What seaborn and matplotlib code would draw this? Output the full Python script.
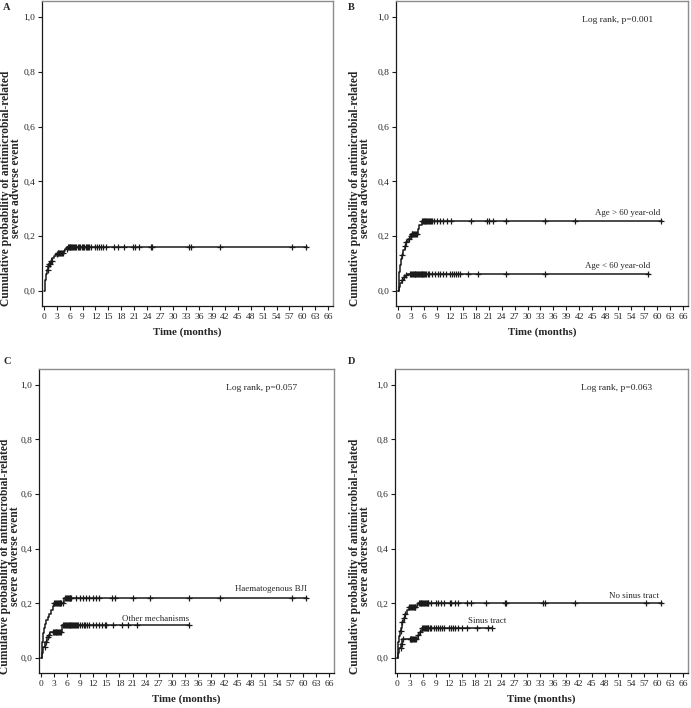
import numpy as np
import matplotlib
matplotlib.use("Agg")
import matplotlib.pyplot as plt
import matplotlib.ticker as mticker
import seaborn as sns

# ---- data ----
# Panel A: whole cohort
A_time = [0, 0.2, 0.4, 0.6, 0.8, 1.0, 1.3, 1.6, 2.0, 2.4, 2.8, 3.2, 4.6, 5.0, 5.5, 61.0]
A_prob = [0, 0.02, 0.04, 0.06, 0.075, 0.09, 0.10, 0.11, 0.12, 0.128, 0.133, 0.138, 0.145, 0.152, 0.16, 0.16]
A_cens = [0.9, 1.1, 1.3, 1.5, 1.7, 1.9, 3.0, 3.2, 3.4, 3.6, 3.8, 4.0, 4.2, 4.4,
          5.3, 5.6, 5.8, 6.0, 6.2, 6.4, 6.6, 6.8, 7.0, 7.3, 7.6, 7.9, 8.2, 8.5, 8.8,
          9.1, 9.4, 9.7, 10.0, 10.3, 10.6, 11.0, 12.0, 12.4, 12.8, 13.3, 13.8, 14.5,
          16.3, 17.2, 18.6, 20.6, 21.2, 22.0, 24.9, 25.1, 33.8, 34.1, 41.0, 57.5, 60.8]

# Panel B: age
B_old_time = [0, 0.2, 0.4, 0.6, 0.8, 1.0, 1.3, 1.6, 2.0, 2.4, 2.8, 3.1, 4.6, 5.0, 5.5, 61.0]
B_old_prob = [0, 0.04, 0.07, 0.095, 0.115, 0.13, 0.15, 0.165, 0.18, 0.19, 0.2, 0.207, 0.225, 0.24, 0.255, 0.255]
B_old_cens = [1.0, 1.6, 2.0, 2.5, 3.0, 3.2, 3.4, 3.6, 3.8, 4.0, 4.2, 4.4,
              5.6, 5.8, 6.0, 6.2, 6.4, 6.6, 6.8, 7.0, 7.2, 7.4, 7.7, 8.0, 8.3,
              9.0, 9.8, 10.4, 11.4, 12.4, 17.0, 20.6, 21.2, 22.0, 25.0, 34.0, 41.0, 60.8]
B_young_time = [0, 0.3, 0.6, 1.0, 1.4, 1.8, 2.2, 58.0]
B_young_prob = [0, 0.015, 0.03, 0.04, 0.05, 0.057, 0.062, 0.062]
B_young_cens = [1.0, 1.5, 1.9, 2.9, 3.1, 3.3, 3.5, 3.7, 3.9, 4.1, 4.3, 4.5, 4.7, 4.9,
                5.1, 5.3, 5.5, 5.7, 5.9, 6.1, 6.3, 6.6, 6.9, 7.2, 8.0, 8.5, 9.2, 9.8,
                10.5, 11.2, 12.0, 12.5, 13.0, 13.5, 14.0, 14.5, 16.3, 18.5, 25.0, 34.0, 57.8]

# Panel C: mechanism
C_haem_time = [0, 0.2, 0.4, 0.6, 0.8, 1.0, 1.3, 1.6, 2.0, 2.4, 2.8, 3.1, 5.4, 61.0]
C_haem_prob = [0, 0.03, 0.06, 0.09, 0.11, 0.125, 0.14, 0.15, 0.16, 0.175, 0.19, 0.2, 0.22, 0.22]
C_haem_cens = [3.1, 3.3, 3.5, 3.7, 3.9, 4.1, 4.3, 4.5, 4.7, 5.0, 5.6, 5.8, 6.0, 6.2,
               6.4, 6.6, 6.8, 7.0, 8.0, 9.0, 9.6, 10.4, 11.0, 12.0, 12.6, 13.4, 16.4,
               17.0, 21.0, 25.0, 34.0, 41.0, 57.5, 60.8]
C_other_time = [0, 0.3, 0.6, 1.0, 1.4, 1.8, 2.2, 4.9, 34.0]
C_other_prob = [0, 0.02, 0.04, 0.06, 0.075, 0.085, 0.095, 0.122, 0.122]
C_other_cens = [0.9, 1.2, 1.6, 2.0, 2.8, 3.0, 3.2, 3.4, 3.6, 3.8, 4.0, 4.2, 4.4, 4.6,
                5.2, 5.4, 5.6, 5.8, 6.0, 6.2, 6.4, 6.6, 6.8, 7.0, 7.2, 7.4, 7.6, 7.8,
                8.0, 8.3, 8.6, 9.0, 9.4, 9.8, 10.2, 10.6, 11.0, 12.0, 12.6, 13.4, 14.0,
                14.6, 15.0, 16.5, 18.5, 20.0, 22.0, 34.0]

# Panel D: sinus tract
D_no_time = [0, 0.2, 0.4, 0.6, 0.8, 1.0, 1.3, 1.6, 2.0, 2.4, 2.8, 4.7, 5.0, 61.0]
D_no_prob = [0, 0.03, 0.06, 0.08, 0.1, 0.11, 0.13, 0.145, 0.16, 0.175, 0.187, 0.195, 0.2, 0.2]
D_no_cens = [0.9, 1.3, 1.6, 2.0, 2.9, 3.1, 3.3, 3.5, 3.7, 3.9, 4.1, 4.3, 5.1, 5.3, 5.5,
             5.7, 5.9, 6.1, 6.3, 6.5, 6.7, 6.9, 7.1, 7.3, 8.0, 9.0, 9.6, 10.2, 11.0,
             12.3, 12.6, 13.5, 14.2, 16.3, 17.0, 20.6, 24.9, 25.1, 33.8, 34.2, 41.0, 57.5, 60.8]
D_sin_time = [0, 0.3, 0.6, 1.0, 1.3, 4.8, 5.3, 5.8, 22.0]
D_sin_prob = [0, 0.02, 0.035, 0.05, 0.07, 0.085, 0.095, 0.11, 0.11]
D_sin_cens = [0.9, 1.1, 1.5, 3.0, 3.2, 3.4, 3.6, 3.8, 4.0, 4.2, 4.5, 4.8, 5.3, 5.9, 6.1,
              6.3, 6.5, 6.7, 6.9, 7.1, 7.3, 7.6, 8.0, 8.5, 9.0, 9.5, 10.0, 10.5, 11.0,
              12.0, 12.5, 13.0, 13.5, 14.0, 15.0, 16.3, 18.5, 21.0, 22.0]

LOGRANK = {"B": "Log rank, p=0.001", "C": "Log rank, p=0.057", "D": "Log rank, p=0.063"}
XTICKS = list(range(0, 67, 3))
YTICKS = [0.0, 0.2, 0.4, 0.6, 0.8, 1.0]

sns.set_theme(style="ticks")
plt.rcParams["font.family"] = ["Liberation Serif", "DejaVu Serif"]

LINE = "#1a1a1a"
FRAME = "#8c8c8c"


def step_value(times, probs, t):
    i = np.searchsorted(times, t, side="right") - 1
    return probs[i]


def draw_curve(ax, times, probs, cens):
    sns.lineplot(x=times, y=probs, ax=ax, color=LINE, linewidth=1.1,
                 drawstyle="steps-post", estimator=None, sort=False)
    cy = [step_value(times, probs, t) for t in cens]
    ax.plot(cens, cy, linestyle="none", marker="+", markersize=4.5,
            markeredgewidth=0.9, color=LINE)


def style_axes(ax, label_x):
    ax.set_xlim(-0.4, 67.1)
    ax.set_ylim(-0.055, 1.058)
    ax.set_xticks(XTICKS)
    ax.set_yticks(YTICKS)
    ax.yaxis.set_major_formatter(mticker.FuncFormatter(lambda v, p: f"{v:.1f}".replace(".", ",")))
    ax.tick_params(axis="both", labelsize=6.8, length=3, width=0.8, pad=2, color=LINE)
    for s in ["top", "right"]:
        ax.spines[s].set_visible(True)
        ax.spines[s].set_color(FRAME)
        ax.spines[s].set_linewidth(1.0)
    for s in ["left", "bottom"]:
        ax.spines[s].set_color(LINE)
        ax.spines[s].set_linewidth(0.9)
    ax.set_xlabel("Time (months)", fontsize=7.8, fontweight="bold", labelpad=5)
    ax.set_ylabel("Cumulative probability of antimicrobial-related\nsevere adverse event",
                  fontsize=8.3, fontweight="bold", linespacing=0.8)
    ax.yaxis.set_label_coords(label_x, 0.385)


W, H = 691, 708
fig = plt.figure(figsize=(W / 100, H / 100), dpi=100)
axA = fig.add_axes([42 / W, 1 - 306 / H, 291 / W, 305 / H])
axB = fig.add_axes([396 / W, 1 - 306 / H, 292 / W, 305 / H])
axC = fig.add_axes([39 / W, 1 - 673 / H, 295 / W, 304 / H])
axD = fig.add_axes([395 / W, 1 - 673 / H, 293 / W, 304 / H])

draw_curve(axA, A_time, A_prob, A_cens)

draw_curve(axB, B_old_time, B_old_prob, B_old_cens)
draw_curve(axB, B_young_time, B_young_prob, B_young_cens)
axB.text(60.8, 0.268, "Age > 60 year-old", ha="right", va="bottom", fontsize=6.4)
axB.text(58.4, 0.078, "Age < 60 year-old", ha="right", va="bottom", fontsize=6.4)

draw_curve(axC, C_haem_time, C_haem_prob, C_haem_cens)
draw_curve(axC, C_other_time, C_other_prob, C_other_cens)
axC.text(61.0, 0.238, "Haematogenous BJI", ha="right", va="bottom", fontsize=6.4)
axC.text(34.0, 0.128, "Other mechanisms", ha="right", va="bottom", fontsize=6.4)

draw_curve(axD, D_no_time, D_no_prob, D_no_cens)
draw_curve(axD, D_sin_time, D_sin_prob, D_sin_cens)
axD.text(60.5, 0.214, "No sinus tract", ha="right", va="bottom", fontsize=6.4)
axD.text(25.2, 0.12, "Sinus tract", ha="right", va="bottom", fontsize=6.4)

for ax, lx in zip([axA, axB, axC, axD], [-0.069, -0.086, -0.060, -0.082]):
    style_axes(ax, lx)

for key, ax in [("B", axB), ("C", axC), ("D", axD)]:
    ax.text(42.5, 0.99, LOGRANK[key], ha="left", va="center", fontsize=6.8)

fig.text(3 / W, 1 - 3 / H, "A", ha="left", va="top", fontsize=7.5, fontweight="bold")
fig.text(348 / W, 1 - 3 / H, "B", ha="left", va="top", fontsize=7.5, fontweight="bold")
fig.text(3 / W, 1 - 357 / H, "C", ha="left", va="top", fontsize=7.5, fontweight="bold")
fig.text(348 / W, 1 - 357 / H, "D", ha="left", va="top", fontsize=7.5, fontweight="bold")

fig.savefig("out.png", dpi=100)
